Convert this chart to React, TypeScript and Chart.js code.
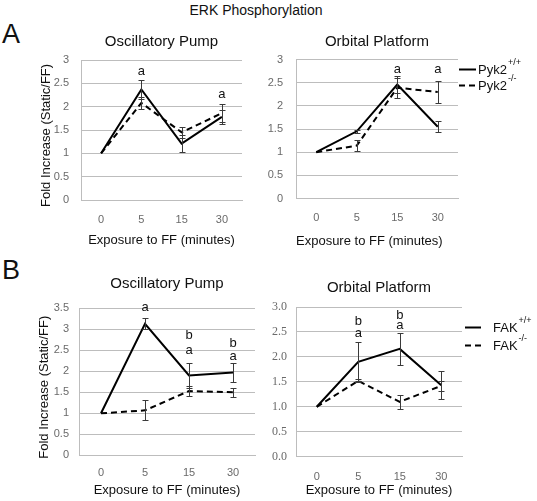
import React, { useEffect, useRef } from 'react';
import { Chart, registerables } from 'chart.js';

Chart.register(...registerables);

// ---------- data ----------
const categories = ['0', '5', '15', '30'];

// A: Pyk2, Oscillatory Pump
const pyk2WtOsc = [1, 2.37, 1.21, 1.78];
const pyk2WtOscErr = [0, 0.2, 0.18, 0.15];
const pyk2KoOsc = [1, 2.08, 1.45, 1.86];
const pyk2KoOscErr = [0, 0.12, 0.12, 0.19];
const pyk2OscLettersLow = ['', 'a', '', 'a'];
const pyk2OscLettersLowLevel = [null, 2.76, null, 2.27];

// A: Pyk2, Orbital Platform
const pyk2WtOrb = [1, 1.45, 2.46, 1.55];
const pyk2WtOrbErr = [0, 0.03, 0.18, 0.12];
const pyk2KoOrb = [1, 1.14, 2.39, 2.3];
const pyk2KoOrbErr = [0, 0.12, 0.22, 0.24];
const pyk2OrbLettersLow = ['', '', 'a', 'a'];
const pyk2OrbLettersLowLevel = [null, null, 2.78, 2.78];

// B: FAK, Oscillatory Pump
const fakWtOsc = [1, 3.13, 1.9, 1.97];
const fakWtOscErr = [0, 0.13, 0.3, 0.22];
const fakKoOsc = [1, 1.07, 1.53, 1.5];
const fakKoOscErr = [0, 0.24, 0.12, 0.1];
const fakOscLettersLow = ['', 'a', 'a', 'a'];
const fakOscLettersLowLevel = [null, 3.51, 2.5, 2.36];
const fakOscLettersHigh = ['', '', 'b', 'b'];
const fakOscLettersHighLevel = [null, null, 2.85, 2.67];

// B: FAK, Orbital Platform
const fakWtOrb = [1, 1.9, 2.16, 1.43];
const fakWtOrbErr = [0, 0.39, 0.32, 0.28];
const fakKoOrb = [1, 1.52, 1.1, 1.42];
const fakKoOrbErr = [0, 0.03, 0.14, 0.1];
const fakOrbLettersLow = ['', 'a', 'a', ''];
const fakOrbLettersLowLevel = [null, 2.47, 2.63, null];
const fakOrbLettersHigh = ['', 'b', 'b', ''];
const fakOrbLettersHighLevel = [null, 2.72, 2.83, null];

const pyk2Legend = [
  { label: 'Pyk2', sup: '+/+', dashed: false },
  { label: 'Pyk2', sup: '-/-', dashed: true },
];
const fakLegend = [
  { label: 'FAK', sup: '+/+', dashed: false },
  { label: 'FAK', sup: '-/-', dashed: true },
];

const xAxisTitle = 'Exposure to FF (minutes)';
const yAxisTitle = 'Fold Increase (Static/FF)';

// ---------- styles ----------
const SANS = '"Liberation Sans", Arial, sans-serif';
const GRID = '#bdbdbd';
const TICK = '#6a6a6a';
const DASH = [6, 4];

// ---------- plugins ----------
const errorBarPlugin = {
  id: 'errorBars',
  afterDatasetsDraw(chart: any) {
    const { ctx } = chart;
    const x = chart.scales.x;
    const y = chart.scales.y;
    ctx.save();
    ctx.strokeStyle = '#3a3a3a';
    ctx.lineWidth = 1;
    ctx.setLineDash([]);
    chart.data.datasets.forEach((ds: any) => {
      const errs = ds.errors;
      if (!errs) return;
      ds.data.forEach((v: number, i: number) => {
        const e = errs[i];
        if (!e) return;
        const px = Math.round(x.getPixelForValue(i)) + 0.5;
        const top = Math.round(y.getPixelForValue(v + e)) + 0.5;
        const bot = Math.round(y.getPixelForValue(v - e)) + 0.5;
        ctx.beginPath();
        ctx.moveTo(px, top);
        ctx.lineTo(px, bot);
        ctx.moveTo(px - 3, top);
        ctx.lineTo(px + 3, top);
        ctx.moveTo(px - 3, bot);
        ctx.lineTo(px + 3, bot);
        ctx.stroke();
      });
    });
    ctx.restore();
  },
};

const lettersPlugin = {
  id: 'letters',
  afterDatasetsDraw(chart: any, _args: any, opts: any) {
    if (!opts || !opts.sets) return;
    const { ctx } = chart;
    const x = chart.scales.x;
    const y = chart.scales.y;
    ctx.save();
    ctx.fillStyle = '#111';
    ctx.font = `13px ${SANS}`;
    ctx.textAlign = 'center';
    ctx.textBaseline = 'middle';
    opts.sets.forEach((set: any) => {
      set.text.forEach((t: string, i: number) => {
        const lvl = set.level[i];
        if (!t || lvl == null) return;
        ctx.fillText(t, x.getPixelForValue(i), y.getPixelForValue(lvl));
      });
    });
    ctx.restore();
  },
};

const legendPlugin = {
  id: 'supLegend',
  afterDraw(chart: any, _args: any, opts: any) {
    if (!opts || !opts.items) return;
    const { ctx, chartArea } = chart;
    ctx.save();
    opts.items.forEach((it: any, k: number) => {
      const yy = Math.round(chartArea.top + opts.rows[k]) + 0.5;
      const x0 = chartArea.right + opts.lineStart;
      const x1 = chartArea.right + opts.lineEnd;
      ctx.strokeStyle = '#000';
      ctx.lineWidth = 2;
      ctx.setLineDash(it.dashed ? DASH : []);
      ctx.beginPath();
      ctx.moveTo(x0, yy);
      ctx.lineTo(x1, yy);
      ctx.stroke();
      ctx.setLineDash([]);
      ctx.fillStyle = '#111';
      ctx.textAlign = 'left';
      ctx.textBaseline = 'middle';
      ctx.font = `13px ${SANS}`;
      const tx = chartArea.right + opts.textStart;
      ctx.fillText(it.label, tx, yy + 1);
      const w = ctx.measureText(it.label).width;
      ctx.font = `9px ${SANS}`;
      ctx.fillText(it.sup, tx + w + 1, yy - 7);
    });
    ctx.restore();
  },
};

// ---------- panel config ----------
type Panel = {
  left: number;
  top: number;
  w: number;
  h: number;
  title: string;
  titlePad: { top: number; bottom: number };
  padRight: number;
  yWidth: number;
  xHeight: number;
  yMax: number;
  yFmt: (v: number) => string;
  yFont: any;
  yTickPad: number;
  xTickPad: number;
  xTitlePadBottom: number;
  xTitleAlign: 'center' | 'start';
  yTitlePadTop?: number;
  wt: number[];
  wtErr: number[];
  ko: number[];
  koErr: number[];
  letterSets: any[];
  legend?: any;
};

const fmtPlain = (v: number) => String(v);
const fmtOne = (v: number) => v.toFixed(1);

const panels: Panel[] = [
  {
    left: 0, top: 28, w: 262, h: 228,
    title: 'Oscillatory Pump',
    titlePad: { top: 5, bottom: 9 },
    padRight: 20, yWidth: 81, xHeight: 56, yMax: 3,
    yFmt: fmtPlain, yFont: { size: 11, family: SANS }, yTickPad: 12,
    xTickPad: 13, xTitlePadBottom: 8, xTitleAlign: 'center',
    yTitlePadTop: 39,
    wt: pyk2WtOsc, wtErr: pyk2WtOscErr, ko: pyk2KoOsc, koErr: pyk2KoOscErr,
    letterSets: [{ text: pyk2OscLettersLow, level: pyk2OscLettersLowLevel }],
  },
  {
    left: 262, top: 28, w: 275, h: 228,
    title: 'Orbital Platform',
    titlePad: { top: 5, bottom: 8.5 },
    padRight: 79, yWidth: 34, xHeight: 57.5, yMax: 3,
    yFmt: fmtPlain, yFont: { size: 11, family: SANS }, yTickPad: 13,
    xTickPad: 13, xTitlePadBottom: 6.5, xTitleAlign: 'start',
    wt: pyk2WtOrb, wtErr: pyk2WtOrbErr, ko: pyk2KoOrb, koErr: pyk2KoOrbErr,
    letterSets: [{ text: pyk2OrbLettersLow, level: pyk2OrbLettersLowLevel }],
    legend: { items: pyk2Legend, rows: [9, 25.5], lineStart: 1, lineEnd: 18, textStart: 20 },
  },
  {
    left: 0, top: 268, w: 262, h: 233,
    title: 'Oscillatory Pump',
    titlePad: { top: 7, bottom: 15.3 },
    padRight: 7, yWidth: 79, xHeight: 45.7, yMax: 3.5,
    yFmt: fmtPlain, yFont: { size: 11, family: SANS }, yTickPad: 10,
    xTickPad: 11, xTitlePadBottom: 2.5, xTitleAlign: 'center',
    yTitlePadTop: 37,
    wt: fakWtOsc, wtErr: fakWtOscErr, ko: fakKoOsc, koErr: fakKoOscErr,
    letterSets: [
      { text: fakOscLettersLow, level: fakOscLettersLowLevel },
      { text: fakOscLettersHigh, level: fakOscLettersHighLevel },
    ],
  },
  {
    left: 262, top: 268, w: 275, h: 233,
    title: 'Orbital Platform',
    titlePad: { top: 11, bottom: 10 },
    padRight: 75, yWidth: 34, xHeight: 44.3, yMax: 3,
    yFmt: fmtOne, yFont: { size: 12, family: '"Liberation Serif", "Times New Roman", serif' }, yTickPad: 9,
    xTickPad: 13.4, xTitlePadBottom: 2.5, xTitleAlign: 'center',
    wt: fakWtOrb, wtErr: fakWtOrbErr, ko: fakKoOrb, koErr: fakKoOrbErr,
    letterSets: [
      { text: fakOrbLettersLow, level: fakOrbLettersLowLevel },
      { text: fakOrbLettersHigh, level: fakOrbLettersHighLevel },
    ],
    legend: { items: fakLegend, rows: [19.7, 38], lineStart: 3, lineEnd: 19, textStart: 31 },
  },
];

function buildConfig(p: Panel): any {
  return {
    type: 'line',
    data: {
      labels: categories,
      datasets: [
        {
          data: p.wt, errors: p.wtErr,
          borderColor: '#000', borderWidth: 2, pointRadius: 0, tension: 0, fill: false,
        },
        {
          data: p.ko, errors: p.koErr,
          borderColor: '#000', borderWidth: 2, borderDash: DASH, pointRadius: 0, tension: 0, fill: false,
        },
      ],
    },
    options: {
      responsive: false,
      animation: false,
      devicePixelRatio: 1,
      layout: { padding: { left: 0, right: p.padRight, top: 0, bottom: 0 } },
      plugins: {
        legend: { display: false },
        tooltip: { enabled: false },
        title: {
          display: true,
          text: p.title,
          fullSize: false,
          color: '#111',
          font: { size: 15, family: SANS, weight: 'normal' },
          padding: p.titlePad,
        },
        letters: { sets: p.letterSets },
        supLegend: p.legend || {},
      },
      scales: {
        x: {
          type: 'category',
          offset: true,
          grid: { display: false, drawTicks: false },
          border: { display: true, color: GRID, width: 1 },
          ticks: { color: TICK, font: { size: 11, family: SANS }, padding: p.xTickPad, maxRotation: 0 },
          title: {
            display: true,
            text: xAxisTitle,
            color: '#111',
            align: p.xTitleAlign,
            font: { size: 13, family: SANS },
            padding: { top: 0, bottom: p.xTitlePadBottom },
          },
          afterFit: (s: any) => { s.height = p.xHeight; },
        },
        y: {
          type: 'linear',
          min: 0,
          max: p.yMax,
          grid: { color: GRID, lineWidth: 1, drawTicks: false },
          border: { display: true, color: GRID, width: 1 },
          ticks: { stepSize: 0.5, color: TICK, font: p.yFont, padding: p.yTickPad, callback: (v: any) => p.yFmt(Number(v)) },
          title: p.yTitlePadTop != null
            ? {
                display: true,
                text: yAxisTitle + '\u00a0\u00a0\u00a0',
                color: '#111',
                font: { size: 13, family: SANS },
                padding: { top: p.yTitlePadTop, bottom: 0 },
              }
            : { display: false },
          afterFit: (s: any) => { s.width = p.yWidth; },
        },
      },
    },
    plugins: [errorBarPlugin, lettersPlugin, legendPlugin],
  };
}

function PanelChart({ p }: { p: Panel }) {
  const ref = useRef<HTMLCanvasElement>(null);
  useEffect(() => {
    if (!ref.current) return;
    const chart = new Chart(ref.current, buildConfig(p));
    return () => chart.destroy();
  }, [p]);
  return (
    <canvas
      ref={ref}
      width={p.w}
      height={p.h}
      style={{ position: 'absolute', left: p.left, top: p.top, width: p.w, height: p.h }}
    />
  );
}

export default function App() {
  return (
    <div
      style={{
        position: 'absolute', left: 0, top: 0, width: 537, height: 501,
        background: '#fff', overflow: 'hidden', fontFamily: SANS,
      }}
    >
      <div style={{ position: 'absolute', left: 0, top: 3, width: 512, textAlign: 'center', fontSize: 14, lineHeight: '14px', color: '#111' }}>
        ERK Phosphorylation
      </div>
      <div style={{ position: 'absolute', left: 2, top: 21, fontSize: 27, lineHeight: '27px', color: '#111' }}>A</div>
      <div style={{ position: 'absolute', left: 2, top: 257, fontSize: 27, lineHeight: '27px', color: '#111' }}>B</div>
      {panels.map((p, i) => (
        <PanelChart key={i} p={p} />
      ))}
    </div>
  );
}
